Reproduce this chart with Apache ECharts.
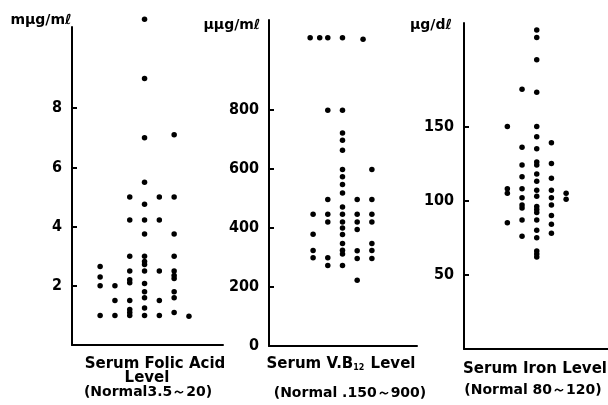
<!DOCTYPE html>
<html><head><meta charset="utf-8">
<script src="https://cdn.jsdelivr.net/npm/echarts@6/dist/echarts.min.js"></script>
<style>html,body{margin:0;padding:0;background:#fff}#c{width:608px;height:405px}</style>
</head><body><div id="c"></div>
<script>
// Panel 1: Serum folic acid (mμg/mℓ) — one array per dot column
const folicCol0 = [2.65, 2.3, 2.0, 1.0];
const folicCol1 = [2.0, 1.5, 1.0];
const folicCol2 = [5.0, 4.22, 3.0, 2.5, 2.2, 2.1, 1.5, 1.2, 1.1, 1.0];
const folicCol3 = [11.0, 9.0, 7.0, 5.5, 4.75, 4.22, 3.75, 3.0, 2.82, 2.72, 2.5, 2.08, 1.8, 1.6, 1.25, 1.0];
const folicCol4 = [5.0, 4.22, 2.5, 1.5, 1.0];
const folicCol5 = [7.1, 5.0, 3.75, 3.0, 2.5, 2.35, 2.25, 1.8, 1.6, 1.1];
const folicCol6 = [0.97];
const folicTicks = [2, 4, 6, 8];

// Panel 2: Serum V.B12 (μμg/mℓ)
const vb12Col0 = [447, 379, 324, 299];
const vb12Col1 = [800, 497, 447, 421, 299, 273];
const vb12Col2 = [800, 723, 698, 664, 599, 574, 548, 519, 472, 447, 421, 400, 378, 348, 325, 312, 273];
const vb12Col3 = [497, 447, 421, 395, 323, 297, 223];
const vb12Col4 = [599, 497, 447, 421, 348, 324, 297];
const vb12TopPos = [-0.2, 0.45, 1, 2, 3.4];
const vb12TopVal = [1046, 1046, 1046, 1046, 1041];
const vb12Ticks = [200, 400, 600, 800];
const vb12Labels = [0, 200, 400, 600, 800];

// Panel 3: Serum iron (μg/dℓ)
const ironCol0 = [150, 108, 105, 85];
const ironCol1 = [175, 136, 124, 116, 108, 102, 97, 95, 87, 76];
const ironCol2 = [215, 210, 195, 173, 150, 143, 135, 126, 124, 118, 113, 107, 103, 96, 94, 92, 87, 80, 75, 66, 64, 62];
const ironCol3 = [139, 125, 115, 107, 102, 97, 90, 84, 78];
const ironCol4 = [105, 101];
const ironTicks = [50, 100, 150];

function toPoints(cols) {
  const out = [];
  cols.forEach((c, i) => c.forEach(v => out.push([i, v])));
  return out;
}
const folicData = toPoints([folicCol0, folicCol1, folicCol2, folicCol3, folicCol4, folicCol5, folicCol6]);
const vb12Data = toPoints([vb12Col0, vb12Col1, vb12Col2, vb12Col3, vb12Col4])
  .concat(vb12TopPos.map((p, i) => [p, vb12TopVal[i]]));
const ironData = toPoints([ironCol0, ironCol1, ironCol2, ironCol3, ironCol4]);

const numFont = "'DejaVu Sans Condensed', 'Liberation Sans Narrow', 'DejaVu Sans', sans-serif";
const txtFont = "'DejaVu Sans', sans-serif";

function yAx(idx, max, ticks, labels) {
  return {
    type: 'value', gridIndex: idx, min: 0, max: max,
    axisLine: { show: true, onZero: false, lineStyle: { color: '#000', width: 2 } },
    axisTick: { show: true, inside: true, length: 5, customValues: ticks, lineStyle: { color: '#000', width: 2 } },
    axisLabel: { show: true, customValues: labels, margin: 10, color: '#000', fontWeight: 'bold', fontSize: 16, fontFamily: numFont },
    splitLine: { show: false }
  };
}
function xAx(idx, min, max) {
  return {
    type: 'value', gridIndex: idx, min: min, max: max,
    axisLine: { show: true, onZero: false, lineStyle: { color: '#000', width: 2 } },
    axisTick: { show: false }, axisLabel: { show: false }, splitLine: { show: false }
  };
}
function sc(idx, data) {
  return { type: 'scatter', xAxisIndex: idx, yAxisIndex: idx, data: data, symbolSize: 5.5, clip: false,
    itemStyle: { color: '#000', opacity: 1 }, silent: true };
}

const chart = echarts.init(document.getElementById('c'), null, { renderer: 'canvas' });
chart.setOption({
  animation: false,
  backgroundColor: '#fff',
  grid: [
    { left: 72, right: 385, top: 27, bottom: 60 },
    { left: 269, right: 191, top: 20, bottom: 59 },
    { left: 464, right: 0, top: 23, bottom: 56 }
  ],
  xAxis: [xAx(0, -1.9, 8.3), xAx(1, -3, 7.07), xAx(2, -2.95, 6.85)],
  yAxis: [yAx(0, 10.74, folicTicks, folicTicks), yAx(1, 1106, vb12Ticks, vb12Labels), yAx(2, 219.7, ironTicks, ironTicks)],
  series: [sc(0, folicData), sc(1, vb12Data), sc(2, ironData)],
  graphic: [
    { type: 'text', style: { x: 41, y: 20, text: 'mμg/mℓ', fill: '#000', font: 'bold 14px ' + txtFont, align: 'center', verticalAlign: 'middle' } },
    { type: 'text', style: { x: 232, y: 25, text: 'μμg/mℓ', fill: '#000', font: 'bold 14px ' + txtFont, align: 'center', verticalAlign: 'middle' } },
    { type: 'text', style: { x: 431, y: 25, text: 'μg/dℓ', fill: '#000', font: 'bold 14px ' + txtFont, align: 'center', verticalAlign: 'middle' } },
    { type: 'text', style: { x: 155, y: 364, text: 'Serum Folic Acid', fill: '#000', font: 'bold 15px ' + txtFont, align: 'center', verticalAlign: 'middle' } },
    { type: 'text', style: { x: 147, y: 378, text: 'Level', fill: '#000', font: 'bold 15px ' + txtFont, align: 'center', verticalAlign: 'middle' } },
    { type: 'text', style: { x: 148, y: 392, text: '(Normal3.5～20)', fill: '#000', font: 'bold 14px ' + txtFont, align: 'center', verticalAlign: 'middle' } },
    { type: 'text', style: { x: 341, y: 364, text: 'Serum V.B{s|12} Level', fill: '#000', font: 'bold 15px ' + txtFont, align: 'center', verticalAlign: 'middle',
      rich: { s: { fontSize: 8, fontWeight: 'bold', fontFamily: txtFont, verticalAlign: 'bottom', padding: [6, 1, 0, 0] } } } },
    { type: 'text', style: { x: 350, y: 393, text: '(Normal .150～900)', fill: '#000', font: 'bold 14px ' + txtFont, align: 'center', verticalAlign: 'middle' } },
    { type: 'text', style: { x: 535, y: 369, text: 'Serum Iron Level', fill: '#000', font: 'bold 15px ' + txtFont, align: 'center', verticalAlign: 'middle' } },
    { type: 'text', style: { x: 533, y: 390, text: '(Normal 80～120)', fill: '#000', font: 'bold 14px ' + txtFont, align: 'center', verticalAlign: 'middle' } }
  ]
});
</script></body></html>
